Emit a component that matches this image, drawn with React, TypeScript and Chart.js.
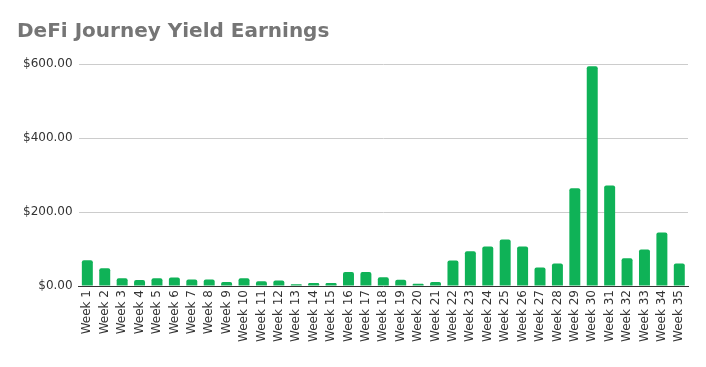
import React, { useEffect, useRef } from "react";
import { Chart, registerables } from "chart.js";

Chart.register(...registerables);

const weeks: string[] = Array.from({ length: 35 }, (_, i) => `Week ${i + 1}`);
const earnings: number[] = [
  70, 48, 21, 16, 21, 23, 18, 18, 11, 21,
  13, 15, 5, 8, 8, 38, 38, 24, 17, 6,
  11, 69, 94, 107, 126, 107, 50, 61, 264, 594,
  272, 75, 99, 145, 61,
];
const yTicks: number[] = [0, 200, 400, 600];
const titleText = "DeFi Journey Yield Earnings";

export default function App() {
  const ref = useRef<HTMLCanvasElement | null>(null);
  useEffect(() => {
    if (!ref.current) return;
    const chart = new Chart(ref.current, {
      type: "bar",
      data: {
        labels: weeks,
        datasets: [
          {
            data: earnings,
            backgroundColor: "#0fb257",
            borderRadius: { topLeft: 2, topRight: 2 },
            borderSkipped: "bottom",
            barPercentage: 0.63,
            categoryPercentage: 1,
          },
        ],
      },
      options: {
        animation: false,
        responsive: false,
        maintainAspectRatio: false,
        layout: { padding: { left: 17, right: 18, top: 12, bottom: 21 } },
        plugins: {
          legend: { display: false },
          tooltip: { enabled: false },
          title: {
            display: true,
            text: titleText,
            align: "start",
            color: "#757575",
            font: { family: "DejaVu Sans", size: 20, weight: "bold" },
            padding: { top: 8, bottom: 20 },
          },
        },
        scales: {
          x: {
            grid: { display: false, drawTicks: false },
            border: { color: "#333", width: 1 },
            ticks: {
              color: "#333",
              font: { family: "DejaVu Sans", size: 12 },
              minRotation: 90,
              maxRotation: 90,
              autoSkip: false,
              padding: 4,
            },
          },
          y: {
            min: 0,
            max: 600,
            afterBuildTicks: (axis: any) => {
              axis.ticks = yTicks.map((v) => ({ value: v }));
            },
            grid: { color: "#cccccc", drawTicks: false },
            border: { display: false },
            ticks: {
              color: "#333",
              font: { family: "DejaVu Sans", size: 12 },
              padding: 6,
              callback: (v: any) => "$" + Number(v).toFixed(2),
            },
          },
        },
      },
    });
    return () => chart.destroy();
  }, []);
  return (
    <div style={{ position: "fixed", left: 0, top: 0, width: 706, height: 367, background: "#fff" }}>
      <canvas ref={ref} width={706} height={367} />
    </div>
  );
}
